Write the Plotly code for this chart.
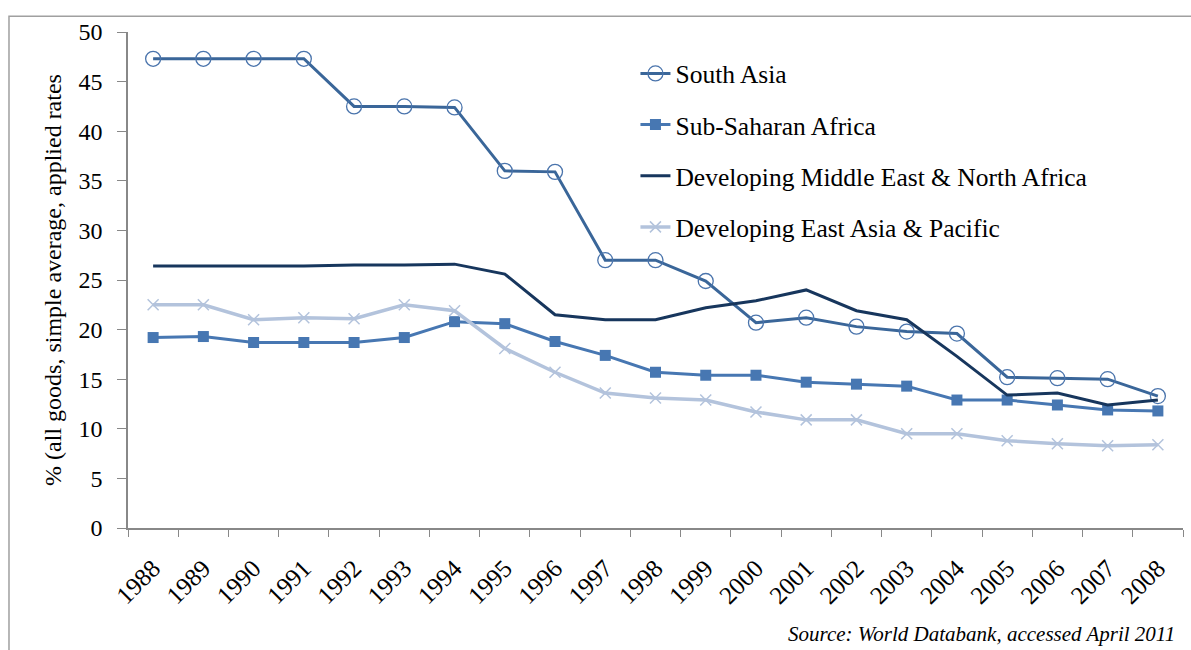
import plotly.graph_objects as go

years = [str(y) for y in range(1988, 2009)]

south_asia = [47.3, 47.3, 47.3, 47.3, 42.5, 42.5, 42.4, 36.0, 35.9, 27.0, 27.0,
              24.9, 20.7, 21.2, 20.3, 19.8, 19.6, 15.2, 15.1, 15.0, 13.3]
sub_saharan = [19.2, 19.3, 18.7, 18.7, 18.7, 19.2, 20.8, 20.6, 18.8, 17.4, 15.7,
               15.4, 15.4, 14.7, 14.5, 14.3, 12.9, 12.9, 12.4, 11.9, 11.8]
mena = [26.4, 26.4, 26.4, 26.4, 26.5, 26.5, 26.6, 25.6, 21.5, 21.0, 21.0,
        22.2, 22.9, 24.0, 21.9, 21.0, 17.3, 13.4, 13.6, 12.4, 12.9]
east_asia = [22.5, 22.5, 21.0, 21.2, 21.1, 22.5, 21.9, 18.1, 15.7, 13.6, 13.1,
             12.9, 11.7, 10.9, 10.9, 9.5, 9.5, 8.8, 8.5, 8.3, 8.4]

names = ["South Asia", "Sub-Saharan Africa",
         "Developing Middle East & North Africa", "Developing East Asia & Pacific"]

FONT = "Liberation Serif"

fig = go.Figure()
fig.add_trace(go.Scatter(
    x=years, y=south_asia, name=names[0], mode="lines+markers", legendgroup="a",
    line=dict(color="#3A6699", width=3),
    marker=dict(symbol="circle-open", size=15, color="#4A74AC", line=dict(width=1.3, color="#4A74AC"))))
fig.add_trace(go.Scatter(
    x=years, y=sub_saharan, name=names[1], mode="lines+markers", legendgroup="b",
    line=dict(color="#4777B2", width=3),
    marker=dict(symbol="square", size=11, color="#4777B2")))
fig.add_trace(go.Scatter(
    x=years, y=mena, name=names[2], mode="lines", legendgroup="c",
    line=dict(color="#17365D", width=3)))
fig.add_trace(go.Scatter(
    x=years, y=east_asia, name=names[3], mode="lines+markers", legendgroup="d",
    line=dict(color="#B3C3DC", width=3.5),
    marker=dict(symbol="x-thin-open", size=11, color="#B3C3DC", line=dict(width=1.5, color="#B3C3DC"))))

fig.update_layout(
    width=1191, height=650,
    margin=dict(l=128, r=8, t=32, b=122, autoexpand=False),
    paper_bgcolor="white", plot_bgcolor="white",
    font=dict(family=FONT, color="black"),
    showlegend=True,
    legend=dict(x=0.481, y=0.963, xanchor="left", yanchor="top",
                bgcolor="rgba(0,0,0,0)", font=dict(size=25.5, family=FONT),
                tracegroupgap=15, itemwidth=30),
    xaxis=dict(type="category", range=[-0.5, 20.5], tickangle=-45, tickson="boundaries",
               automargin=False, ticklabelstandoff=14,
               ticks="outside", ticklen=7, tickcolor="#888888",
               showline=True, linecolor="#888888", linewidth=1.5,
               showgrid=False, tickfont=dict(size=25, family=FONT)),
    yaxis=dict(range=[0, 50], dtick=5, ticks="outside", ticklen=9, tickcolor="#888888",
               showline=True, linecolor="#888888", linewidth=1.5, showgrid=False,
               zeroline=False, automargin=False, ticklabelstandoff=10,
               tickfont=dict(size=24, family=FONT),
               title=dict(text="% (all goods, simple average, applied rates",
                          font=dict(size=24, family=FONT), standoff=10)),
)

# outer frame
fig.add_shape(type="rect", xref="paper", yref="paper",
              x0=-0.1128, x1=1.02, y0=-0.3, y1=1.0316,
              line=dict(color="#A0A0A0", width=1.5), fillcolor="rgba(0,0,0,0)", layer="below")

fig.add_annotation(text="<i>Source: World Databank, accessed April 2011</i>",
                   xref="paper", yref="paper", x=0.994, y=-0.213,
                   xanchor="right", yanchor="middle", showarrow=False,
                   font=dict(size=21, family=FONT, color="black"))

fig.write_html("out.html", config={"displayModeBar": False},
               post_script="document.body.style.margin='0';document.body.style.overflow='hidden';")
